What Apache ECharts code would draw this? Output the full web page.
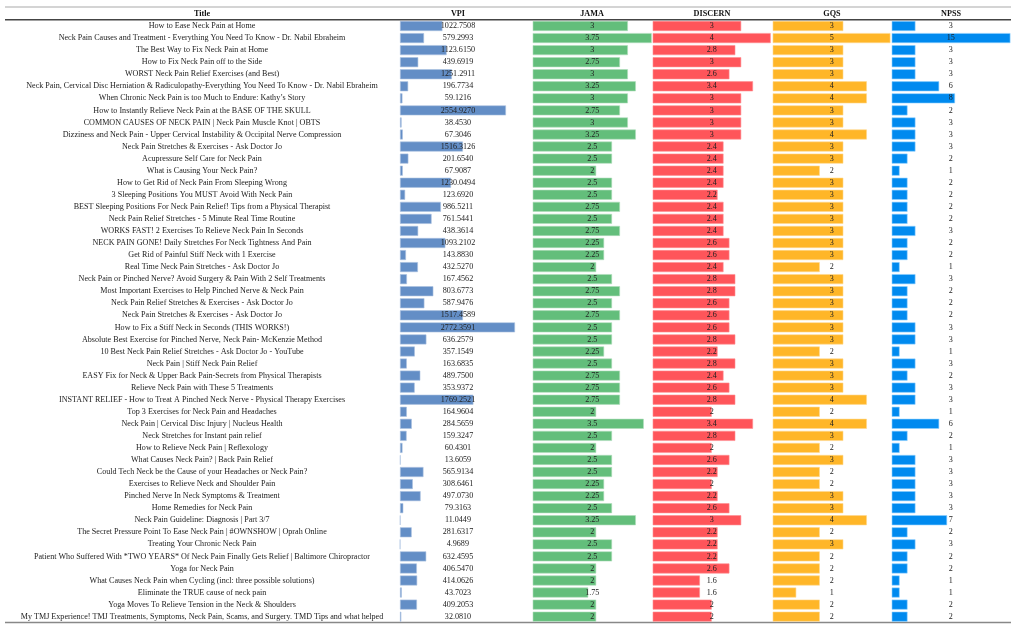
<!DOCTYPE html>
<html>
<head>
<meta charset="utf-8">
<script src="https://cdn.jsdelivr.net/npm/echarts@6/dist/echarts.min.js"></script>
<style>
  html, body { margin: 0; padding: 0; background: #fff; }
  #main { width: 1021px; height: 630px; }
</style>
</head>
<body>
<div id="main"></div>
<script>
const titles = [
  'How to Ease Neck Pain at Home',
  'Neck Pain Causes and Treatment - Everything You Need To Know - Dr. Nabil Ebraheim',
  'The Best Way to Fix Neck Pain at Home',
  'How to Fix Neck Pain off to the Side',
  'WORST Neck Pain Relief Exercises (and Best)',
  'Neck Pain, Cervical Disc Herniation & Radiculopathy-Everything You Need To Know - Dr. Nabil Ebraheim',
  'When Chronic Neck Pain is too Much to Endure: Kathy\u2019s Story',
  'How to Instantly Relieve Neck Pain at the BASE OF THE SKULL',
  'COMMON CAUSES OF NECK PAIN | Neck Pain Muscle Knot | OBTS',
  'Dizziness and Neck Pain - Upper Cervical Instability & Occipital Nerve Compression',
  'Neck Pain Stretches & Exercises - Ask Doctor Jo',
  'Acupressure Self Care for Neck Pain',
  'What is Causing Your Neck Pain?',
  'How to Get Rid of Neck Pain From Sleeping Wrong',
  '3 Sleeping Positions You MUST Avoid With Neck Pain',
  'BEST Sleeping Positions For Neck Pain Relief! Tips from a Physical Therapist',
  'Neck Pain Relief Stretches - 5 Minute Real Time Routine',
  'WORKS FAST! 2 Exercises To Relieve Neck Pain In Seconds',
  'NECK PAIN GONE! Daily Stretches For Neck Tightness And Pain',
  'Get Rid of Painful Stiff Neck with 1 Exercise',
  'Real Time Neck Pain Stretches - Ask Doctor Jo',
  'Neck Pain or Pinched Nerve? Avoid Surgery & Pain With 2 Self Treatments',
  'Most Important Exercises to Help Pinched Nerve & Neck Pain',
  'Neck Pain Relief Stretches & Exercises - Ask Doctor Jo',
  'Neck Pain Stretches & Exercises - Ask Doctor Jo',
  'How to Fix a Stiff Neck in Seconds (THIS WORKS!)',
  'Absolute Best Exercise for Pinched Nerve, Neck Pain- McKenzie Method',
  '10 Best Neck Pain Relief Stretches - Ask Doctor Jo - YouTube',
  'Neck Pain | Stiff Neck Pain Relief',
  'EASY Fix for Neck & Upper Back Pain-Secrets from Physical Therapists',
  'Relieve Neck Pain with These 5 Treatments',
  'INSTANT RELIEF - How to Treat A Pinched Neck Nerve - Physical Therapy Exercises',
  'Top 3 Exercises for Neck Pain and Headaches',
  'Neck Pain | Cervical Disc Injury | Nucleus Health',
  'Neck Stretches for Instant pain relief',
  'How to Relieve Neck Pain | Reflexology',
  'What Causes Neck Pain? | Back Pain Relief',
  'Could Tech Neck be the Cause of your Headaches or Neck Pain?',
  'Exercises to Relieve Neck and Shoulder Pain',
  'Pinched Nerve In Neck Symptoms & Treatment',
  'Home Remedies for Neck Pain',
  'Neck Pain Guideline: Diagnosis | Part 3/7',
  'The Secret Pressure Point To Ease Neck Pain | #OWNSHOW | Oprah Online',
  'Treating Your Chronic Neck Pain',
  'Patient Who Suffered With *TWO YEARS* Of Neck Pain Finally Gets Relief | Baltimore Chiropractor',
  'Yoga for Neck Pain',
  'What Causes Neck Pain when Cycling (incl: three possible solutions)',
  'Eliminate the TRUE cause of neck pain',
  'Yoga Moves To Relieve Tension in the Neck & Shoulders',
  'My TMJ Experience! TMJ Treatments, Symptoms, Neck Pain, Scams, and Surgery. TMD Tips and what helped'
];

const vpi = [
  1022.7508, 579.2993, 1123.6150, 439.6919, 1251.2911, 196.7734, 59.1216, 2554.9270, 38.4530, 67.3046,
  1516.3126, 201.6540, 67.9087, 1230.0494, 123.6920, 986.5211, 761.5441, 438.3614, 1093.2102, 143.8830,
  432.5270, 167.4562, 803.6773, 587.9476, 1517.4589, 2772.3591, 636.2579, 357.1549, 163.6835, 489.7500,
  353.9372, 1769.2521, 164.9604, 284.5659, 159.3247, 60.4301, 13.6059, 565.9134, 308.6461, 497.0730,
  79.3163, 11.0449, 281.6317, 4.9689, 632.4595, 406.5470, 414.0626, 43.7023, 409.2053, 32.0810
];
const jama = [
  3, 3.75, 3, 2.75, 3, 3.25, 3, 2.75, 3, 3.25,
  2.5, 2.5, 2, 2.5, 2.5, 2.75, 2.5, 2.75, 2.25, 2.25,
  2, 2.5, 2.75, 2.5, 2.75, 2.5, 2.5, 2.25, 2.5, 2.75,
  2.75, 2.75, 2, 3.5, 2.5, 2, 2.5, 2.5, 2.25, 2.25,
  2.5, 3.25, 2, 2.5, 2.5, 2, 2, 1.75, 2, 2
];
const discern = [
  3, 4, 2.8, 3, 2.6, 3.4, 3, 3, 3, 3,
  2.4, 2.4, 2.4, 2.4, 2.2, 2.4, 2.4, 2.4, 2.6, 2.6,
  2.4, 2.8, 2.8, 2.6, 2.6, 2.6, 2.8, 2.2, 2.8, 2.4,
  2.6, 2.8, 2, 3.4, 2.8, 2, 2.6, 2.2, 2, 2.2,
  2.6, 3, 2.2, 2.2, 2.2, 2.6, 1.6, 1.6, 2, 2
];
const gqs = [
  3, 5, 3, 3, 3, 4, 4, 3, 3, 4,
  3, 3, 2, 3, 3, 3, 3, 3, 3, 3,
  2, 3, 3, 3, 3, 3, 3, 2, 3, 3,
  3, 4, 2, 4, 3, 2, 3, 2, 2, 3,
  3, 4, 2, 3, 2, 2, 2, 1, 2, 2
];
const npss = [
  3, 15, 3, 3, 3, 6, 8, 2, 3, 3,
  3, 2, 1, 2, 2, 2, 2, 3, 2, 2,
  1, 3, 2, 2, 2, 3, 3, 1, 3, 2,
  3, 3, 1, 6, 2, 1, 3, 3, 3, 3,
  3, 7, 2, 3, 2, 2, 1, 1, 2, 2
];

const headers = ['Title', 'VPI', 'JAMA', 'DISCERN', 'GQS', 'NPSS'];
const metrics = [vpi, jama, discern, gqs, npss];
const colors = ['#638EC6', '#63BE7B', '#FF555A', '#FFB628', '#008AEF'];

// column layout: bar start x, bar width for the column max
const cols = [
  { left: 400, width: 115 },
  { left: 532.7, width: 119 },
  { left: 652.7, width: 118 },
  { left: 772.7, width: 117.7 },
  { left: 891.7, width: 118.7 }
];
const headerX = [202, 458, 592, 712, 832, 951];
const colCenter = [458, 592.3, 711.7, 831.7, 950.7];

const FONT = '"Liberation Serif", "Times New Roman", serif';
const FS = 8.1;
const TOP = 20, BOTTOM = 630 - 622.7;

const chart = echarts.init(document.getElementById('main'));

const grids = cols.map(c => ({ left: c.left, width: c.width, top: TOP, bottom: BOTTOM, containLabel: false }));
const xAxes = cols.map((c, i) => ({
  gridIndex: i, type: 'value', min: 0, max: 'dataMax', show: false
}));
const yAxes = cols.map((c, i) => ({
  gridIndex: i, type: 'category', inverse: true, data: titles,
  axisLine: { show: false }, axisTick: { show: false }, splitLine: { show: false },
  axisLabel: i === 0 ? {
    show: true, interval: 0, align: 'center', margin: 400 - 202,
    fontFamily: FONT, fontSize: FS, color: '#222'
  } : { show: false }
}));
const series = metrics.map((vals, i) => ({
  type: 'bar',
  xAxisIndex: i, yAxisIndex: i,
  data: vals,
  barWidth: 10,
  itemStyle: { color: colors[i], borderColor: echarts.color.modifyHSL(colors[i], null, null, 0.78), borderWidth: 0.6 },
  label: {
    show: true,
    position: [colCenter[i] - cols[i].left, '50%'],
    align: 'center', verticalAlign: 'middle',
    fontFamily: FONT, fontSize: FS, color: '#222',
    formatter: i === 0 ? p => p.value.toFixed(4) : p => String(p.value)
  },
  silent: true,
  animation: false
}));

const graphic = [
  { type: 'line', shape: { x1: 5, y1: 7, x2: 1011, y2: 7 }, style: { stroke: '#aaa', lineWidth: 1.2 } },
  { type: 'line', shape: { x1: 5, y1: 19.8, x2: 1011, y2: 19.8 }, style: { stroke: '#444', lineWidth: 1.5 } },
  { type: 'line', shape: { x1: 5, y1: 622.5, x2: 1011, y2: 622.5 }, style: { stroke: '#888', lineWidth: 1.5 } }
].concat(headers.map((h, i) => ({
  type: 'text', x: headerX[i], y: 14,
  style: { text: h, font: 'bold 8.2px ' + FONT, fill: '#111', textAlign: 'center', textVerticalAlign: 'middle' }
})));

chart.setOption({
  animation: false,
  grid: grids,
  xAxis: xAxes,
  yAxis: yAxes,
  series: series,
  graphic: graphic
});
</script>
</body>
</html>
